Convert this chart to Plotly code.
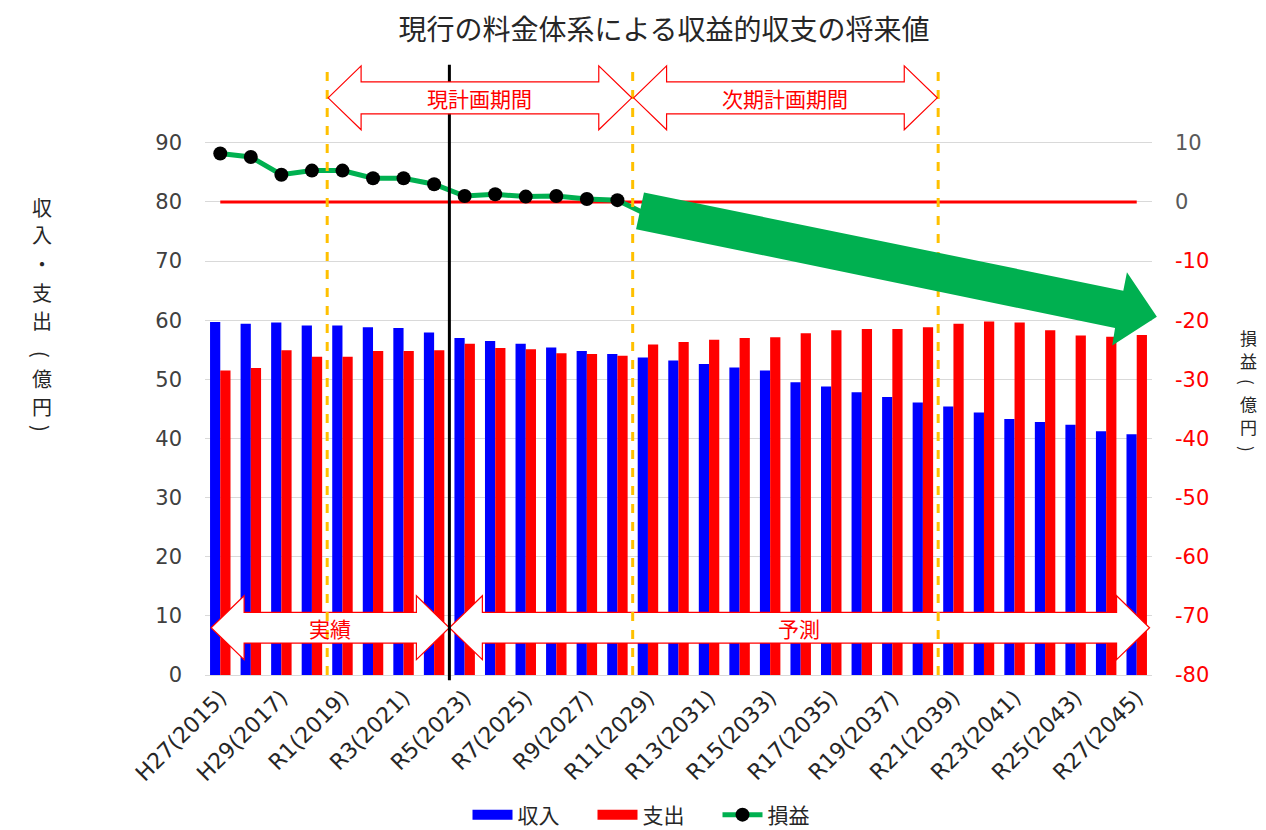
import plotly.graph_objects as go

# ---------------- data ----------------
categories = ["H27(2015)", "H28(2016)", "H29(2017)", "H30(2018)", "R1(2019)", "R2(2020)",
              "R3(2021)", "R4(2022)", "R5(2023)", "R6(2024)", "R7(2025)", "R8(2026)",
              "R9(2027)", "R10(2028)", "R11(2029)", "R12(2030)", "R13(2031)", "R14(2032)",
              "R15(2033)", "R16(2034)", "R17(2035)", "R18(2036)", "R19(2037)", "R20(2038)",
              "R21(2039)", "R22(2040)", "R23(2041)", "R24(2042)", "R25(2043)", "R26(2044)",
              "R27(2045)"]
revenue = [59.7, 59.4, 59.6, 59.1, 59.1, 58.8, 58.7, 57.9, 57.0, 56.5, 56.0, 55.4, 54.8, 54.3,
           53.7, 53.2, 52.6, 52.0, 51.5, 49.5, 48.8, 47.8, 47.0, 46.1, 45.4, 44.4, 43.3, 42.8,
           42.3, 41.2, 40.7]
expense = [51.5, 51.9, 54.9, 53.8, 53.8, 54.8, 54.8, 54.9, 56.0, 55.3, 55.1, 54.4, 54.3, 54.0,
           55.9, 56.3, 56.7, 57.0, 57.1, 57.8, 58.3, 58.5, 58.5, 58.8, 59.4, 59.8, 59.6, 58.3,
           57.4, 57.2, 57.5]
profit = [8.2, 7.6, 4.6, 5.3, 5.3, 4.0, 4.0, 3.0, 1.0, 1.3, 0.9, 1.0, 0.5, 0.3, -2.2] + [None] * 16

left_ticks = [0, 10, 20, 30, 40, 50, 60, 70, 80, 90]
right_ticks = [-80, -70, -60, -50, -40, -30, -20, -10, 0, 10]

# period boundaries (category index units)
plan_bounds = [3.5, 13.5, 23.5]
actual_split = 7.5

# ---------------- layout geometry ----------------
O = 8                      # page body margin offset
W, H = 1266 - O, 830 - O
L, R, T, B = 205 - O, 1152 - O, 60 - O, 675 - O
XR = [-0.5, 30.5]
YR = [0, 104]
Y2R = [-80, 24]

def pxp(i):  # category index -> paper x
    return (i - XR[0]) / (XR[1] - XR[0])

def pyp(v):  # left-axis value -> paper y
    return (v - YR[0]) / (YR[1] - YR[0])

def ppx(px):  # screen pixel x -> paper
    return (px - O - L) / (R - L)

def ppy(py):  # screen pixel y -> paper
    return (B - (py - O)) / (B - T)

FONT = "DejaVu Sans, Noto Sans CJK JP"
JFONT = "Noto Sans CJK JP"

x = list(range(len(categories)))

fig = go.Figure()
fig.add_trace(go.Bar(x=x, y=revenue, name="収入", marker=dict(color="#0000FF", line=dict(width=0)),
                     yaxis="y", showlegend=False))
fig.add_trace(go.Bar(x=x, y=expense, name="支出", marker=dict(color="#FF0000", line=dict(width=0)),
                     yaxis="y", showlegend=False))
# legend keys for the bar series (wide rectangles)
fig.add_trace(go.Scatter(x=[None], y=[None], mode="lines", name="収入",
                         line=dict(color="#0000FF", width=10), hoverinfo="skip"))
fig.add_trace(go.Scatter(x=[None], y=[None], mode="lines", name="支出",
                         line=dict(color="#FF0000", width=10), hoverinfo="skip"))
# zero line for profit axis
fig.add_trace(go.Scatter(x=[x[0], x[-1]], y=[0, 0], mode="lines", yaxis="y2",
                         line=dict(color="#FF0000", width=3), showlegend=False, hoverinfo="skip"))
fig.add_trace(go.Scatter(x=x, y=profit, name="損益", mode="lines+markers", yaxis="y2",
                         line=dict(color="#00B050", width=5),
                         marker=dict(color="#000000", size=14)))

shapes = []

def path(points):
    return "M " + " L ".join(f"{pxp(a):.5f},{pyp(b):.5f}" for a, b in points) + " Z"

def double_arrow(x0, x1, yc, head_len=1.08, shaft=2.7, head=5.4):
    return [(x0, yc), (x0 + head_len, yc + head), (x0 + head_len, yc + shaft),
            (x1 - head_len, yc + shaft), (x1 - head_len, yc + head), (x1, yc),
            (x1 - head_len, yc - head), (x1 - head_len, yc - shaft),
            (x0 + head_len, yc - shaft), (x0 + head_len, yc - head)]

# bottom arrows (実績 / 予測)
bottom_y = 8.0
for a, b in [(-0.3, actual_split), (actual_split, 30.42)]:
    shapes.append(dict(type="path", xref="paper", yref="paper", layer="above",
                       path=path(double_arrow(a, b, bottom_y, shaft=2.6)),
                       fillcolor="#FFFFFF", line=dict(color="#FF0000", width=1.2)))

# dashed period lines
for b in plan_bounds:
    shapes.append(dict(type="line", xref="paper", yref="paper", layer="above",
                       x0=pxp(b), x1=pxp(b), y0=0, y1=pyp(103.2),
                       line=dict(color="#FFC000", width=3, dash="dash")))
# actual / forecast split line
shapes.append(dict(type="line", xref="paper", yref="paper", layer="above",
                   x0=pxp(actual_split), x1=pxp(actual_split), y0=pyp(-0.9), y1=pyp(103.2),
                   line=dict(color="#000000", width=3)))

# top arrows (plan periods)
top_y = 97.6
for a, b in [(plan_bounds[0], plan_bounds[1]), (plan_bounds[1], plan_bounds[2])]:
    shapes.append(dict(type="path", xref="paper", yref="paper", layer="above",
                       path=path(double_arrow(a + 0.03, b - 0.03, top_y)),
                       fillcolor="#FFFFFF", line=dict(color="#FF0000", width=1.2)))

# big green trend arrow
green_arrow = [(13.87, 81.6), (29.56, 65.0), (29.68, 68.1), (30.66, 60.6),
               (29.2, 55.7), (29.29, 58.7), (13.61, 75.4)]
shapes.append(dict(type="path", xref="paper", yref="paper", layer="above",
                   path=path(green_arrow), fillcolor="#00B050", line=dict(width=0)))

annotations = []
red_font = dict(family=JFONT, size=21, color="#FF0000")
annotations.append(dict(x=(plan_bounds[0] + plan_bounds[1]) / 2, y=top_y, xref="x", yref="y",
                        text="現計画期間", showarrow=False, font=red_font))
annotations.append(dict(x=(plan_bounds[1] + plan_bounds[2]) / 2, y=top_y, xref="x", yref="y",
                        text="次期計画期間", showarrow=False, font=red_font))
annotations.append(dict(x=(-0.3 + actual_split) / 2, y=bottom_y, xref="x", yref="y",
                        text="実績", showarrow=False, font=red_font))
annotations.append(dict(x=(actual_split + 30.42) / 2, y=bottom_y, xref="x", yref="y",
                        text="予測", showarrow=False, font=red_font))

def vtext(chars, xpx, ys, size):
    for ch, yy in zip(chars, ys):
        ang = 90 if ch in "()" else 0
        annotations.append(dict(x=ppx(xpx), y=ppy(yy), xref="paper", yref="paper", text=ch,
                                textangle=ang, showarrow=False, xanchor="center", yanchor="middle",
                                font=dict(family=JFONT, size=size, color="#262626")))

vtext(["収", "入", "・", "支", "出", "(", "億", "円", ")"], 42,
      [207, 234, 263, 292, 320, 354, 378, 406, 428], 20)
vtext(["損", "益", "(", "億", "円", ")"], 1248,
      [337, 361, 382, 403, 427, 449], 17)

right_text = [str(v) if v >= 0 else f'<span style="color:#FF0000">{v}</span>' for v in right_ticks]

fig.update_layout(
    width=W, height=H,
    margin=dict(l=L, r=W - R, t=T, b=H - B, pad=0, autoexpand=False),
    paper_bgcolor="#FFFFFF", plot_bgcolor="#FFFFFF",
    font=dict(family=FONT, color="#404040"),
    title=dict(text="現行の料金体系による収益的収支の将来値", x=(664 - O) / W, xanchor="center",
               y=1 - (30 - O) / H, yanchor="middle", xref="container", yref="container",
               font=dict(family=JFONT, size=28, color="#262626")),
    barmode="group", bargap=0.33, bargroupgap=0,
    xaxis=dict(range=XR, tickmode="array", tickvals=x[::2], ticktext=categories[::2],
               tickangle=-45, showgrid=False, zeroline=False, showline=True,
               linecolor="#D9D9D9", linewidth=1, ticks="", automargin=False,
               tickfont=dict(family=FONT, size=22, color="#262626")),
    yaxis=dict(range=YR, tickmode="array", tickvals=left_ticks, showgrid=True,
               gridcolor="#D9D9D9", gridwidth=1, zeroline=False, ticks="", automargin=False,
               ticklabelstandoff=22, tickfont=dict(family=FONT, size=21, color="#404040")),
    yaxis2=dict(range=Y2R, overlaying="y", side="right", tickmode="array",
                tickvals=right_ticks, ticktext=right_text, showgrid=False, zeroline=False,
                ticks="", automargin=False, ticklabelstandoff=22,
                tickfont=dict(family=FONT, size=21, color="#595959")),
    legend=dict(orientation="h", x=ppx(655), xanchor="center", y=ppy(815), yanchor="middle",
                font=dict(family=JFONT, size=21, color="#262626"), traceorder="normal",
                itemwidth=40, entrywidth=70),
    shapes=shapes,
    annotations=annotations,
    showlegend=True,
)

fig.write_html("out.html")
